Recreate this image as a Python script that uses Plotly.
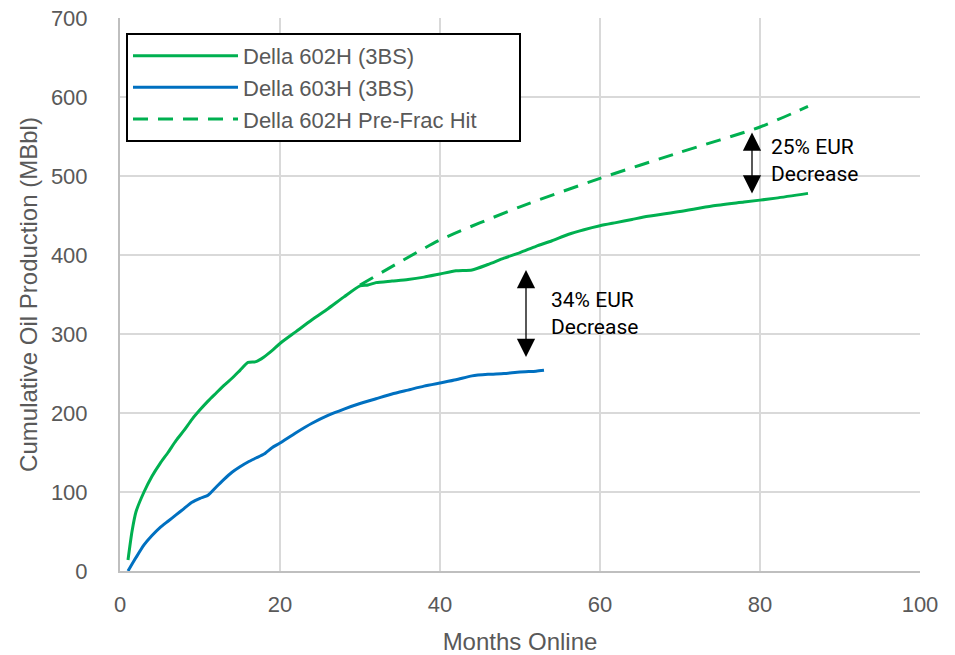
import plotly.graph_objects as go

# ── Data ──────────────────────────────────────────────────────────────────────
months_602 = [1, 1.5, 2, 3, 4, 5, 6, 7, 8, 9, 10, 11, 12, 13, 14, 15, 16, 17, 18, 19,
              20, 22, 24, 26, 28, 30, 31, 32, 34, 36, 38, 40, 42, 44, 46, 48, 50, 52,
              54, 56, 58, 60, 62, 64, 66, 70, 74, 78, 82, 86]
oil_602 = [14, 50, 75, 100, 120, 136, 150, 165, 178, 192, 204, 215, 225, 235, 244, 254,
           264, 265, 271, 279, 288, 303, 318, 332, 347, 361, 362, 365, 367, 369, 372,
           376, 380, 381, 388, 396, 403, 411, 418, 426, 432, 437, 441, 445, 449, 455,
           462, 467, 472, 478]

months_603 = [1, 2, 3, 4, 5, 6, 7, 8, 9, 10, 11, 12, 13, 14, 15, 16, 17, 18, 19, 20,
              22, 24, 26, 28, 30, 32, 34, 36, 38, 40, 42, 44, 46, 48, 50, 52, 53]
oil_603 = [0, 17, 33, 45, 55, 63, 71, 79, 87, 92, 96, 106, 116, 125, 132, 138, 143, 148,
           156, 162, 175, 187, 197, 205, 212, 218, 224, 229, 234, 238, 242, 247, 249,
           250, 252, 253, 254]

months_prefrac = [30, 40, 50, 60, 70, 80, 86]
oil_prefrac = [362, 419, 461, 497, 530, 562, 588]

GREEN = "#00B050"
BLUE = "#0070C0"
GREY_TXT = "#595959"
PAD = "\u00a0" * 6   # widens the legend box a little, like the reference

fig = go.Figure()
fig.add_trace(go.Scatter(x=months_602, y=oil_602, mode="lines", name="Della 602H (3BS)",
                         line=dict(color=GREEN, width=3, shape="spline", smoothing=0.6)))
fig.add_trace(go.Scatter(x=months_603, y=oil_603, mode="lines", name="Della 603H (3BS)",
                         line=dict(color=BLUE, width=3, shape="spline", smoothing=0.6)))
fig.add_trace(go.Scatter(x=months_prefrac, y=oil_prefrac, mode="lines",
                         name="Della 602H Pre-Frac Hit" + PAD,
                         line=dict(color=GREEN, width=3, dash="15px,10px",
                                   shape="spline", smoothing=0.6)))

# ── EUR decrease arrows + labels ──────────────────────────────────────────────
arrows = [(50.75, 383, 271), (79, 557, 478)]
for xa, ytop, ybot in arrows:
    fig.add_annotation(x=xa, y=ybot, ax=xa, ay=ytop, xref="x", yref="y", axref="x", ayref="y",
                       text="", showarrow=True, arrowhead=2, arrowsize=2.8, arrowwidth=1.3,
                       arrowside="end+start", arrowcolor="black", standoff=0, startstandoff=0)

labels = [(53.6, 326, "34% EUR<br>Decrease"), (81.1, 519, "25% EUR<br>Decrease")]
for xl, yl, txt in labels:
    fig.add_annotation(x=xl, y=yl, xref="x", yref="y", text=txt, showarrow=False,
                       xanchor="left", align="left",
                       font=dict(family="Roboto, Arial, sans-serif", size=21, color="black"))

fig.update_layout(
    width=955, height=655,
    margin=dict(l=120, r=35, t=18, b=84),
    paper_bgcolor="white", plot_bgcolor="white",
    font=dict(family="Arial, Liberation Sans, sans-serif", size=20, color=GREY_TXT),
    showlegend=True,
    legend=dict(x=0.0075, y=0.973, xanchor="left", yanchor="top",
                bgcolor="white", bordercolor="black", borderwidth=2,
                font=dict(size=22, color=GREY_TXT), itemwidth=105,
                tracegroupgap=0),
)
fig.update_xaxes(range=[0, 100], dtick=20, showgrid=True, gridcolor="#D9D9D9", gridwidth=1.5,
                 showline=True, linecolor="#BFBFBF", linewidth=2, zeroline=False,
                 ticks="", ticklabelstandoff=13, tickfont=dict(size=22), automargin=False,
                 title=dict(text="Months Online", standoff=18))
fig.update_yaxes(range=[0, 700], dtick=100, showgrid=True, gridcolor="#D9D9D9", gridwidth=1.5,
                 showline=True, linecolor="#BFBFBF", linewidth=2, zeroline=False,
                 ticks="", ticklabelstandoff=26, tickfont=dict(size=22), automargin=False,
                 title=dict(text="Cumulative Oil Production (MBbl)", standoff=6))

fig.write_html("out.html", config={"displayModeBar": False},
               post_script="document.body.style.margin='0px';")
